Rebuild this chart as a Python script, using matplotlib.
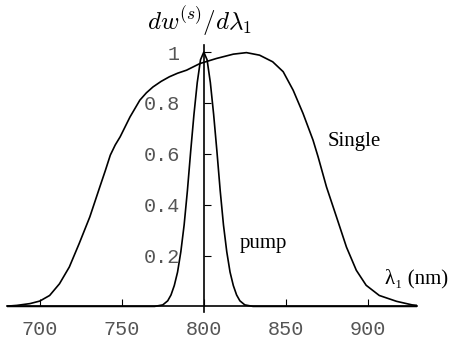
import numpy as np
import matplotlib
matplotlib.use("Agg")
import matplotlib.pyplot as plt

plt.rcParams['mathtext.fontset'] = 'cm'

# values
single_nm = [680, 686, 694, 700, 706, 712, 718, 724, 730.5, 736.6, 740, 743, 746, 749, 755,
             761, 765, 769, 774, 779, 784, 789.5, 797.6, 807.7, 818, 826, 834, 842, 848.4,
             854.5, 860.5, 866.6, 869.7, 874.8, 880.9, 887, 893, 899, 907, 917.5, 927, 930]
single_val = [0.001, 0.004, 0.011, 0.021, 0.043, 0.089, 0.155, 0.247, 0.352, 0.47, 0.535,
              0.595, 0.635, 0.667, 0.745, 0.811, 0.84, 0.863, 0.885, 0.903, 0.917, 0.929,
              0.955, 0.975, 0.992, 0.998, 0.988, 0.962, 0.923, 0.85, 0.759, 0.654, 0.588,
              0.47, 0.352, 0.233, 0.142, 0.083, 0.043, 0.02, 0.006, 0.004]

pump_nm = [680, 770, 775, 778, 780, 782, 784, 786, 788, 790, 792, 794, 796, 798, 800,
           802, 804, 806, 808, 810, 812, 814, 816, 818, 820, 822, 825, 830, 930]
pump_val = [0, 0, 0.006, 0.022, 0.045, 0.082, 0.135, 0.215, 0.32, 0.455, 0.61, 0.755, 0.88,
            0.97, 1.0, 0.97, 0.88, 0.755, 0.61, 0.455, 0.32, 0.215, 0.135, 0.082, 0.045,
            0.022, 0.006, 0, 0]

xticks = [700, 750, 800, 850, 900]
yticks = [0.2, 0.4, 0.6, 0.8, 1]
ytick_labels = ['0.2', '0.4', '0.6', '0.8', '1']

W, H = 453, 344
fig = plt.figure(figsize=(W / 100, H / 100), dpi=100)
ax = fig.add_axes([7 / W, 1 - 312 / H, 410 / W, 267 / H])
ax.set_xlim(680, 930)
ax.set_ylim(-0.022, 1.028)

ax.plot(single_nm, single_val, color='black', lw=1.2)
ax.plot(pump_nm, pump_val, color='black', lw=1.2)

for s in ['top', 'right']:
    ax.spines[s].set_visible(False)
ax.spines['left'].set_position(('data', 800))
ax.spines['bottom'].set_position(('data', 0))
ax.spines['left'].set_linewidth(1.2)
ax.spines['bottom'].set_linewidth(1.2)

mono = {'family': 'Liberation Mono', 'size': 14.5}
ax.set_xticks(xticks)
ax.set_xticklabels([str(t) for t in xticks], fontdict=mono, color='#555555')
ax.set_yticks(yticks)
ax.set_yticklabels(ytick_labels, fontdict=mono, color='#555555')
ax.tick_params(axis='x', direction='in', length=5, width=0.8, pad=10)
ax.tick_params(axis='y', direction='in', length=5, width=0.8, pad=17)

fig.text(200 / W, 1 - 21 / H, r'$dw^{(s)}/d\lambda_1$', fontsize=18, ha='center', va='center')

serif = ['Liberation Serif', 'DejaVu Serif']
ax.text(875.6, 0.63, 'Single', family=serif, fontsize=15, va='baseline')
ax.text(822, 0.231, 'pump', family=serif, fontsize=15, va='baseline')
ax.text(910.4, 0.09, 'λ₁ (nm)', family=serif, fontsize=15, va='baseline')

fig.savefig('out.png', dpi=100)
